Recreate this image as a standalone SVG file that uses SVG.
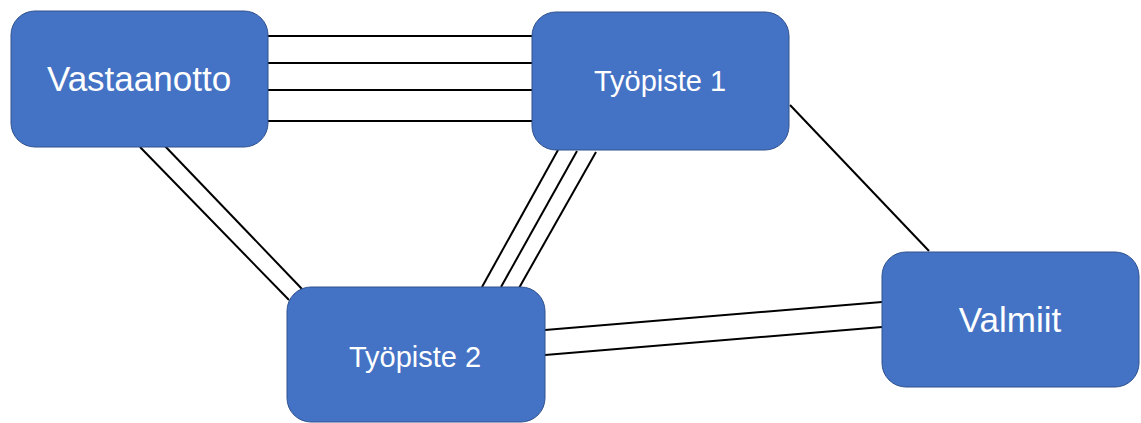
<svg xmlns="http://www.w3.org/2000/svg" width="1141" height="423" viewBox="0 0 1141 423">
  <style>
    .box { fill: #4472C4; stroke: #2F528F; stroke-width: 1; }
    .label { fill: #FFFFFF; font-family: "Liberation Sans", Arial, sans-serif; text-anchor: middle; }
    .link { stroke: #000000; stroke-width: 2; fill: none; }
  </style>
  <rect width="1141" height="423" fill="#FFFFFF"/>

  <!-- connectors -->
  <g id="connectors">
    <!-- Vastaanotto to Työpiste 1 -->
    <line class="link" x1="268" y1="36" x2="532" y2="36"/>
    <line class="link" x1="268" y1="63" x2="532" y2="63"/>
    <line class="link" x1="268" y1="90" x2="532" y2="90"/>
    <line class="link" x1="268" y1="121" x2="532" y2="121"/>
    <!-- Vastaanotto to Työpiste 2 -->
    <line class="link" x1="140" y1="147" x2="289" y2="300"/>
    <line class="link" x1="163" y1="144" x2="302" y2="289"/>
    <!-- Työpiste 1 to Työpiste 2 -->
    <line class="link" x1="558" y1="150" x2="482" y2="287"/>
    <line class="link" x1="577" y1="151" x2="501" y2="287"/>
    <line class="link" x1="596" y1="152" x2="519" y2="288"/>
    <!-- Työpiste 2 to Valmiit -->
    <line class="link" x1="545" y1="330" x2="882" y2="302"/>
    <line class="link" x1="545" y1="355" x2="882" y2="327"/>
    <!-- Työpiste 1 to Valmiit -->
    <line class="link" x1="790" y1="105" x2="929" y2="251"/>
  </g>

  <g id="vastaanotto">
    <rect class="box" x="11" y="11" width="257" height="136" rx="24" ry="24"/>
    <text class="label" x="139" y="91" font-size="35">Vastaanotto</text>
  </g>

  <g id="tyopiste1">
    <rect class="box" x="532" y="12" width="257" height="138" rx="24" ry="24"/>
    <text class="label" x="660" y="91" font-size="29">Työpiste 1</text>
  </g>

  <g id="tyopiste2">
    <rect class="box" x="287" y="287" width="258" height="135" rx="24" ry="24"/>
    <text class="label" x="415" y="367" font-size="29">Työpiste 2</text>
  </g>

  <g id="valmiit">
    <rect class="box" x="882" y="252" width="257" height="135" rx="24" ry="24"/>
    <text class="label" x="1010" y="332" font-size="35">Valmiit</text>
  </g>
</svg>
